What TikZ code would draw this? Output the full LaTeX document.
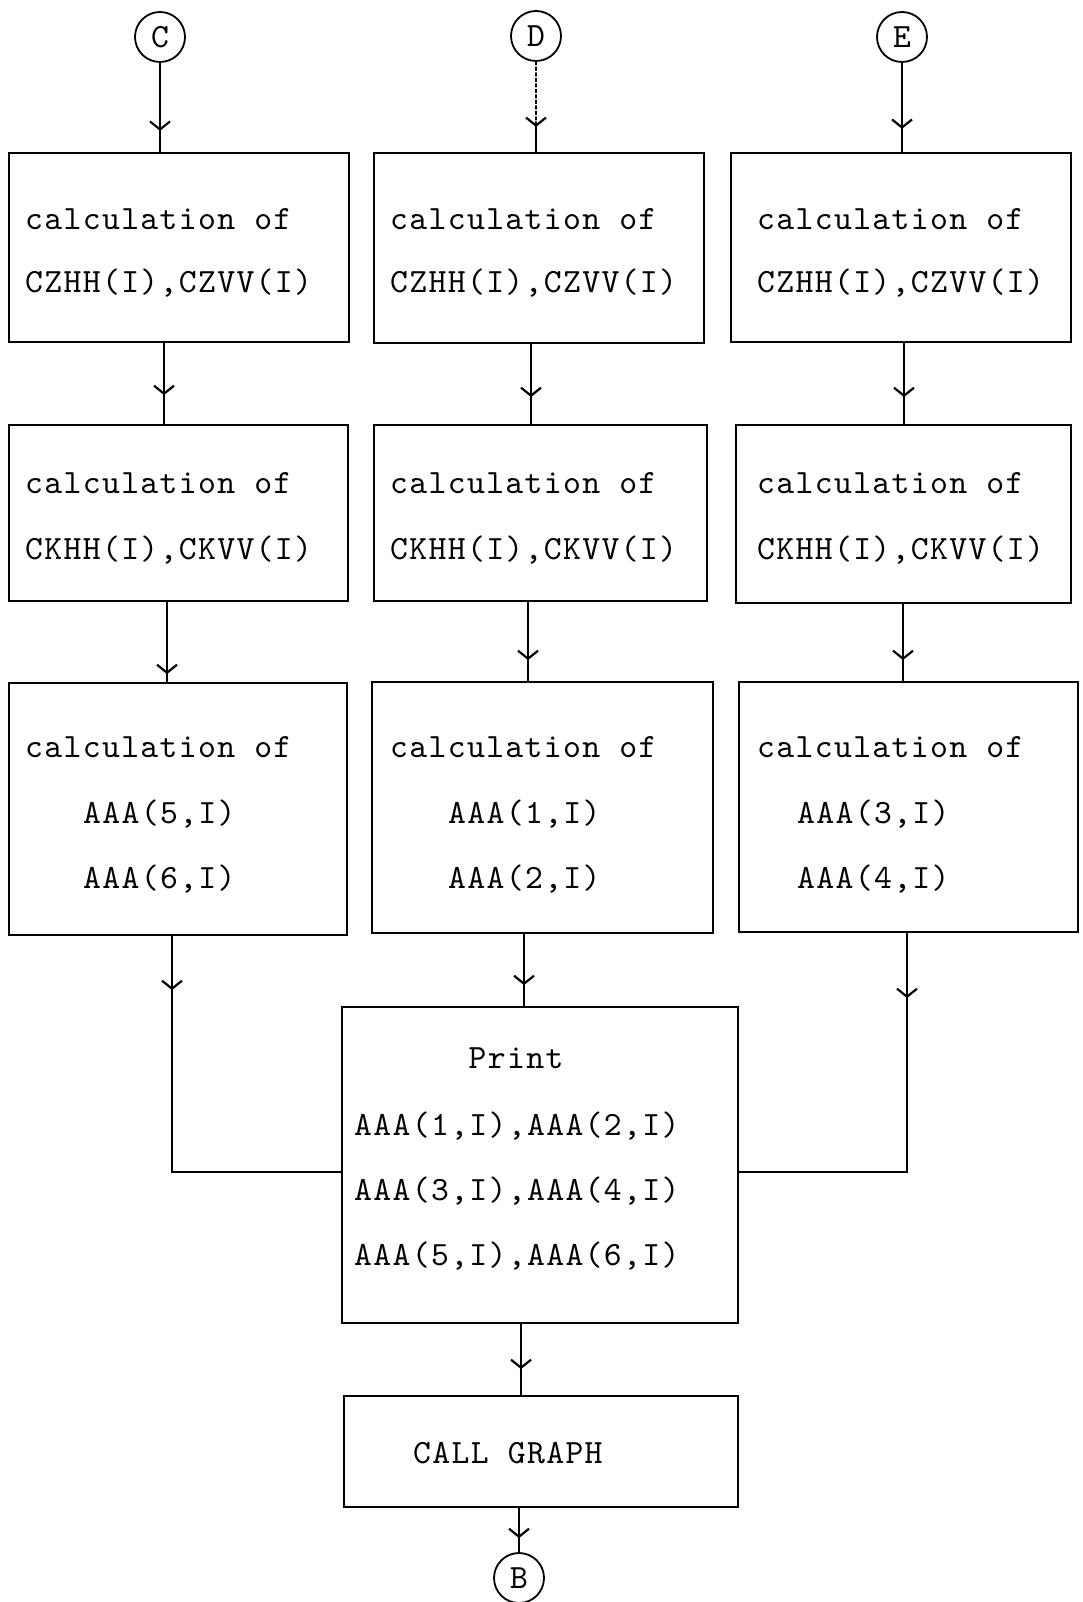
\documentclass[tikz,border=0pt]{standalone}
\usepackage{fontspec}
\usetikzlibrary{arrows.meta,decorations.markings}
\newfontfamily\lmmonosp{lmmono10-regular.otf}[LetterSpace=4]
\newcommand{\ffmono}{\lmmonosp\fontsize{34pt}{40pt}\selectfont}
\tikzset{
  box/.style={draw, rectangle, line width=2.2pt, inner sep=0pt},
  circ/.style={draw, circle, line width=1.8pt, minimum size=50pt, inner sep=0pt, font=\ffmono},
  txt/.style={anchor=base west, inner sep=0pt, font=\ffmono},
  conn/.style={line width=2pt, line cap=round, postaction={decorate},
    decoration={markings, mark=at position #1 with {\arrow[line width=2.2pt]{Straight Barb[length=8pt,width=20pt]}}}},
  plainline/.style={line width=2pt, line cap=round}
}
\begin{document}
\begin{tikzpicture}[x=1pt,y=-1pt]
\fill[white] (0,0) rectangle (1083,1602);
\useasboundingbox (0,0) rectangle (1083,1602);

% circles
\node[circ] (C) at (160,37) {C};
\node[circ] (D) at (536,36) {D};
\node[circ] (E) at (902,37) {E};
\node[circ] (B) at (519,1578) {B};

% boxes
\node[box, minimum width=340pt, minimum height=189pt] (R1C1) at (179,247.5) {};
\node[box, minimum width=330pt, minimum height=190pt] (R1C2) at (539,248) {};
\node[box, minimum width=340pt, minimum height=189pt] (R1C3) at (901,247.5) {};
\node[box, minimum width=339pt, minimum height=176pt] (R2C1) at (178.5,513) {};
\node[box, minimum width=333pt, minimum height=176pt] (R2C2) at (540.5,513) {};
\node[box, minimum width=335pt, minimum height=178pt] (R2C3) at (903.5,514) {};
\node[box, minimum width=338pt, minimum height=252pt] (R3C1) at (178,809) {};
\node[box, minimum width=341pt, minimum height=251pt] (R3C2) at (542.5,807.5) {};
\node[box, minimum width=339pt, minimum height=250pt] (R3C3) at (908.5,807) {};
\node[box, minimum width=396pt, minimum height=316pt] (P) at (540,1165) {};
\node[box, minimum width=394pt, minimum height=111pt] (G) at (541,1451.5) {};

% texts row 1
\node[txt] (t11a) at (25,230) {calculation of};
\node[txt] (t11b) at (25,293) {CZHH(I),CZVV(I)};
\node[txt] (t12a) at (390,230) {calculation of};
\node[txt] (t12b) at (390,293) {CZHH(I),CZVV(I)};
\node[txt] (t13a) at (757,230) {calculation of};
\node[txt] (t13b) at (757,293) {CZHH(I),CZVV(I)};
% row 2
\node[txt] (t21a) at (25,493) {calculation of};
\node[txt] (t21b) at (25,559) {CKHH(I),CKVV(I)};
\node[txt] (t22a) at (390,493) {calculation of};
\node[txt] (t22b) at (390,559) {CKHH(I),CKVV(I)};
\node[txt] (t23a) at (757,493) {calculation of};
\node[txt] (t23b) at (757,559) {CKHH(I),CKVV(I)};
% row 3
\node[txt] (t31a) at (25,757) {calculation of};
\node[txt] (t31b) at (83,823) {AAA(5,I)};
\node[txt] (t31c) at (83,888) {AAA(6,I)};
\node[txt] (t32a) at (390,757) {calculation of};
\node[txt] (t32b) at (448,823) {AAA(1,I)};
\node[txt] (t32c) at (448,888) {AAA(2,I)};
\node[txt] (t33a) at (757,757) {calculation of};
\node[txt] (t33b) at (797,823) {AAA(3,I)};
\node[txt] (t33c) at (797,888) {AAA(4,I)};
% print
\node[txt, anchor=base] (tpa) at (516,1068) {Print};
\node[txt] (tpb) at (354,1135) {AAA(1,I),AAA(2,I)};
\node[txt] (tpc) at (354,1200) {AAA(3,I),AAA(4,I)};
\node[txt] (tpd) at (354,1265) {AAA(5,I),AAA(6,I)};
\node[txt] (tg) at (413,1463) {CALL GRAPH};

% column x positions
\coordinate (xa1) at (164,0);
\coordinate (xa2) at (167,0);
\coordinate (xa3) at (172,0);
\coordinate (xb1) at (531,0);
\coordinate (xb2) at (528,0);
\coordinate (xb3) at (524,0);
\coordinate (xc1) at (904,0);
\coordinate (xc2) at (903,0);
\coordinate (xc3) at (907,0);
\coordinate (xg) at (521,0);
\coordinate (fy) at (0,1172);
\coordinate (dm) at (536,122);

% column 1
\draw[conn=68pt] (C) -- (C |- R1C1.north);
\draw[conn=52pt] (R1C1.south -| xa1) -- (R2C1.north -| xa1);
\draw[conn=72pt] (R2C1.south -| xa2) -- (R3C1.north -| xa2);
\draw[conn=54pt] (R3C1.south -| xa3) |- (P.west |- fy);
% column 2
\draw[plainline, line width=1.5pt, dash pattern=on 3pt off 2.5pt] (D) -- (dm);
\draw[conn=5pt] (dm) -- (D |- R1C2.north);
\draw[conn=53pt] (R1C2.south -| xb1) -- (R2C2.north -| xb1);
\draw[conn=58pt] (R2C2.south -| xb2) -- (R3C2.north -| xb2);
\draw[conn=51pt] (R3C2.south -| xb3) -- (P.north -| xb3);
% column 3
\draw[conn=66pt] (E) -- (E |- R1C3.north);
\draw[conn=54pt] (R1C3.south -| xc1) -- (R2C3.north -| xc1);
\draw[conn=56pt] (R2C3.south -| xc2) -- (R3C3.north -| xc2);
\draw[conn=65pt] (R3C3.south -| xc3) |- (P.east |- fy);
% bottom
\draw[conn=45pt] (P.south -| xg) -- (G.north -| xg);
\draw[conn=30pt] (G.south -| B) -- (B);
\end{tikzpicture}
\end{document}
